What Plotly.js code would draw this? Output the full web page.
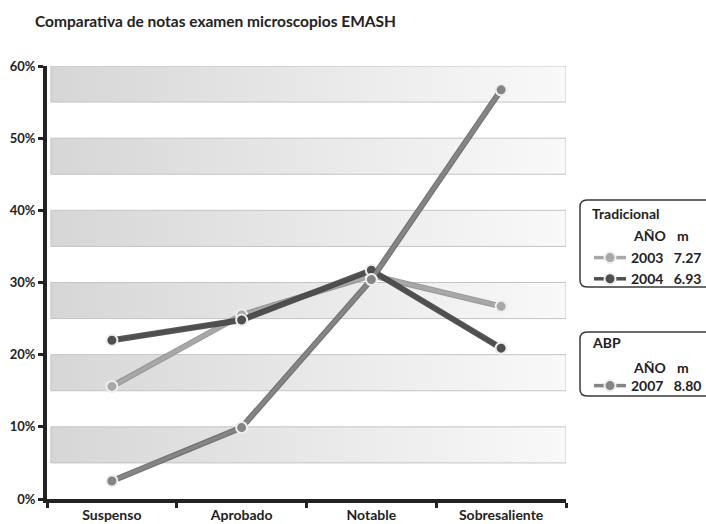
<!DOCTYPE html>
<html>
<head>
<meta charset="utf-8">
<script src="https://cdn.plot.ly/plotly-3.0.1.min.js"></script>
<style>html,body{margin:0;padding:0;background:#fff;}#chart{width:706px;height:524px;}</style>
</head>
<body>
<div id="chart"></div>
<script>
const categories = ['Suspenso', 'Aprobado', 'Notable', 'Sobresaliente'];
const values2003 = [15.6, 25.5, 31.0, 26.7];
const values2004 = [22.0, 24.8, 31.7, 20.9];
const values2007 = [2.5, 9.9, 30.4, 56.7];
const years = ['2003', '2004', '2007'];
const means = ['7.27', '6.93', '8.80'];
const groupNames = ['Tradicional', 'ABP'];
const headerYear = 'AÑO';
const headerMean = 'm';
const yTickVals = [0, 10, 20, 30, 40, 50, 60];
const yTickText = ['0%', '10%', '20%', '30%', '40%', '50%', '60%'];
const bandStarts = [5, 15, 25, 35, 45, 55];

const FONT = 'Lato, Open Sans, DejaVu Sans, sans-serif';
const NB = '\u00a0';
const W = 706, H = 524, ML = 47, MR = 140, MT = 66, MB = 25;
const PW = W - ML - MR, PH = H - MT - MB;
const px = x => (x - ML) / PW;          // pixel -> paper x
const py = y => (H - MB - y) / PH;       // pixel -> paper y

const traces = [];
// background bands (decoration on the hidden linear base axis)
bandStarts.forEach(b => {
  traces.push({
    x: [-0.47, 3.5, 3.5, -0.47, -0.47],
    y: [b, b, b + 5, b + 5, b],
    xaxis: 'x', yaxis: 'y',
    mode: 'lines', fill: 'toself',
    line: {color: '#c4c4c4', width: 1},
    fillgradient: {type: 'horizontal', colorscale: [[0, '#d6d6d6'], [0.5, '#e8e8e8'], [1, '#f9f9f9']]},
    hoverinfo: 'skip', showlegend: false
  });
});

function series(vals, color, edge, name, legend) {
  traces.push({
    x: categories, y: vals, xaxis: 'x2', yaxis: 'y', mode: 'lines', type: 'scatter',
    line: {color: edge, width: 6}, opacity: 0.85,
    showlegend: false, hoverinfo: 'skip'
  });
  traces.push({
    x: categories, y: vals, xaxis: 'x2', yaxis: 'y', mode: 'lines+markers', type: 'scatter',
    name: name, legend: legend,
    line: {color: color, width: 3.5},
    marker: {size: 11, color: color, line: {color: '#eeeeee', width: 2}}
  });
}
series(values2003, '#a8a8a8', '#8c8c8c', years[0] + NB + NB + NB + means[0], 'legend');
series(values2004, '#4f4f4f', '#3a3a3a', years[1] + NB + NB + NB + means[1], 'legend');
series(values2007, '#858585', '#5e5e5e', years[2] + NB + NB + NB + means[2], 'legend2');

function roundRect(x0, y0, x1, y1, r) {
  const X0 = px(x0), X1 = px(x1), Y0 = py(y0), Y1 = py(y1);
  const rx = r / PW, ry = r / PH;
  return `M${X0 + rx},${Y0} L${X1 - rx},${Y0} Q${X1},${Y0} ${X1},${Y0 - ry} L${X1},${Y1 + ry} Q${X1},${Y1} ${X1 - rx},${Y1} L${X0 + rx},${Y1} Q${X0},${Y1} ${X0},${Y1 + ry} L${X0},${Y0 - ry} Q${X0},${Y0} ${X0 + rx},${Y0} Z`;
}
const shapes = [
  {type: 'path', xref: 'paper', yref: 'paper', path: roundRect(580, 200, 716, 287, 7),
   line: {color: '#3a3a3a', width: 1.5}, fillcolor: 'rgba(0,0,0,0)'},
  {type: 'path', xref: 'paper', yref: 'paper', path: roundRect(580, 332, 716, 396, 7),
   line: {color: '#3a3a3a', width: 1.5}, fillcolor: 'rgba(0,0,0,0)'}
];

const annFont = {family: FONT, size: 14, color: '#222', weight: 'bold'};
function ann(text, x, y) {
  return {text: text, x: px(x), y: py(y), xref: 'paper', yref: 'paper',
          xanchor: 'left', yanchor: 'middle', showarrow: false, font: annFont};
}
const annotations = [
  ann(groupNames[0], 590, 214), ann(headerYear, 631, 235), ann(headerMean, 675, 235),
  ann(groupNames[1], 590, 342), ann(headerYear, 631, 367), ann(headerMean, 675, 367)
];

const legendCommon = {
  xanchor: 'left', yanchor: 'top', bgcolor: 'rgba(0,0,0,0)',
  borderwidth: 0,
  font: {family: FONT, size: 14, color: '#222', weight: 'bold'},
  itemwidth: 32, tracegroupgap: 0, itemclick: false
};

const layout = {
  width: W, height: H,
  margin: {l: ML, r: MR, t: MT, b: MB, autoexpand: false},
  paper_bgcolor: '#ffffff', plot_bgcolor: '#ffffff',
  title: {
    text: '<b>Comparativa de notas examen microscopios EMASH</b>',
    font: {family: FONT, size: 15.5, color: '#222'},
    x: 35 / W, xanchor: 'left', xref: 'container',
    y: 1 - 22 / H, yanchor: 'middle', yref: 'container'
  },
  xaxis: {range: [-0.5, 3.5], visible: false, showgrid: false, zeroline: false},
  xaxis2: {
    type: 'category', range: [-0.5, 3.5], overlaying: 'x', anchor: 'y', side: 'bottom',
    showline: true, linecolor: '#222', linewidth: 4,
    ticks: 'outside', tickson: 'boundaries', ticklen: 5, tickwidth: 3, tickcolor: '#222',
    showgrid: false, zeroline: false,
    tickfont: {family: FONT, size: 14, color: '#222', weight: 'bold'}
  },
  yaxis: {
    range: [0, 60], tickvals: yTickVals, ticktext: yTickText,
    showline: true, linecolor: '#222', linewidth: 4,
    ticks: 'outside', ticklen: 5, tickwidth: 3, tickcolor: '#222',
    showgrid: false, zeroline: false,
    tickfont: {family: FONT, size: 13, color: '#222', weight: 'bold'}
  },
  legend: Object.assign({}, legendCommon, {x: px(589), y: py(242)}),
  legend2: Object.assign({}, legendCommon, {x: px(589), y: py(370)}),
  shapes: shapes,
  annotations: annotations,
  showlegend: true
};

Plotly.newPlot('chart', traces, layout, {displayModeBar: false, staticPlot: true});
</script>
</body>
</html>
